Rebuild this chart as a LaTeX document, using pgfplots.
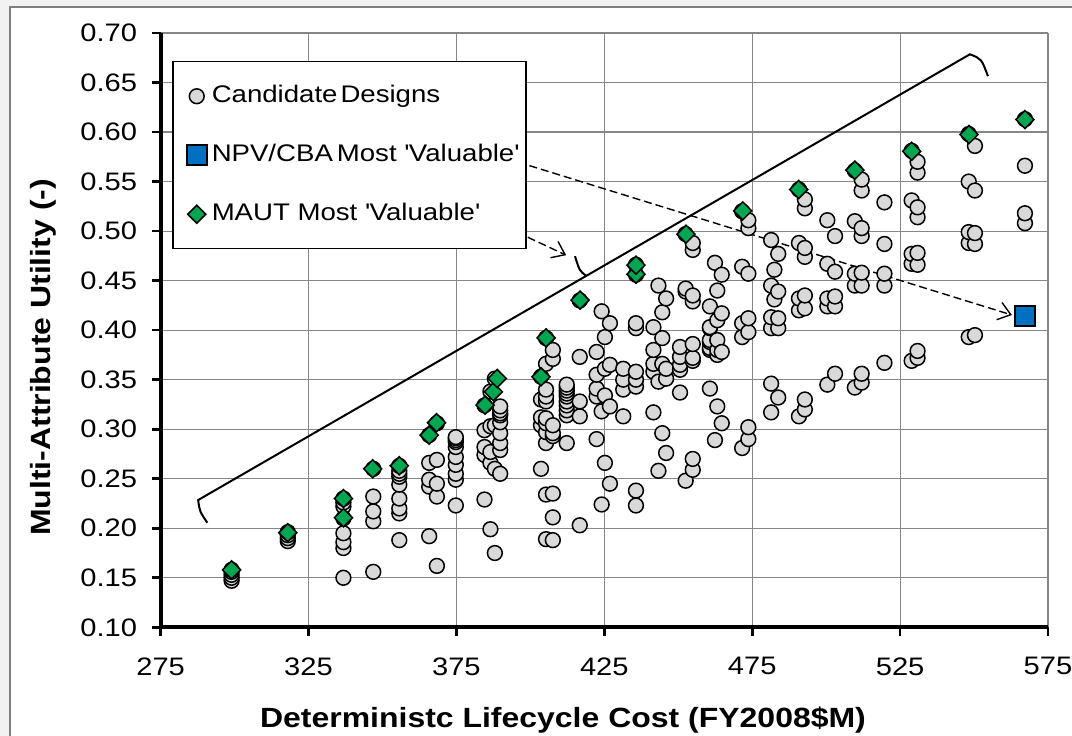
\documentclass[border=0pt]{standalone}
\usepackage{fontspec}
\setmainfont{Liberation Sans}[FakeStretch=1.15]
\usepackage{pgfplots}
\pgfplotsset{compat=1.18}
\usetikzlibrary{arrows.meta}
\definecolor{ptgray}{HTML}{D9D9D9}
\definecolor{ptgreen}{HTML}{00A650}
\definecolor{ptblue}{HTML}{0070C0}
\definecolor{gridgray}{HTML}{868686}
\definecolor{bggray}{HTML}{F2F2F2}
\definecolor{framegray}{HTML}{7F7F7F}
\pgfplotsset{mylegimg/.style={legend image code/.code={\draw[##1] plot coordinates {(0bp,0bp)}; \path[draw=none,fill=none] (-10bp,-4bp) rectangle (4bp,4bp);}}}

\pgfplotstableread{
x y
299.0 0.147
299.0 0.150
299.0 0.153
299.0 0.156
299.0 0.158
318.0 0.187
318.0 0.190
318.0 0.193
318.0 0.196
336.8 0.150
336.8 0.180
336.8 0.186
336.8 0.195
336.8 0.210
336.8 0.222
336.8 0.226
336.8 0.230
346.9 0.156
346.9 0.207
346.9 0.217
346.9 0.232
346.9 0.260
355.7 0.188
355.7 0.215
355.7 0.220
355.7 0.230
355.7 0.244
355.7 0.252
355.7 0.255
355.7 0.258
355.7 0.263
365.8 0.192
365.8 0.242
365.8 0.249
365.8 0.266
365.8 0.294
368.4 0.162
368.4 0.232
368.4 0.245
368.4 0.269
368.4 0.306
374.8 0.223
374.8 0.249
374.8 0.255
374.8 0.264
374.8 0.272
374.8 0.282
374.8 0.287
374.8 0.289
374.8 0.291
374.8 0.292
384.5 0.229
384.5 0.274
384.5 0.282
384.5 0.299
384.5 0.324
386.5 0.199
386.5 0.266
386.5 0.277
386.5 0.303
386.5 0.338
388.0 0.175
388.0 0.260
388.0 0.304
388.0 0.351
389.8 0.255
389.8 0.279
389.8 0.286
389.8 0.296
389.8 0.307
389.8 0.314
389.8 0.316
389.8 0.319
389.8 0.323
403.6 0.260
403.6 0.304
403.6 0.312
403.6 0.330
403.6 0.353
405.3 0.189
405.3 0.234
405.3 0.286
405.3 0.297
405.3 0.306
405.3 0.311
405.3 0.328
405.3 0.333
405.3 0.340
405.3 0.366
405.3 0.392
407.6 0.188
407.6 0.211
407.6 0.235
407.6 0.293
407.6 0.296
407.6 0.304
407.6 0.371
407.6 0.380
412.3 0.286
412.3 0.314
412.3 0.319
412.3 0.324
412.3 0.328
412.3 0.333
412.3 0.336
412.3 0.339
412.3 0.342
412.3 0.345
416.7 0.203
416.7 0.313
416.7 0.328
416.7 0.373
416.7 0.430
422.4 0.290
422.4 0.333
422.4 0.341
422.4 0.355
422.4 0.378
424.1 0.224
424.1 0.318
424.1 0.419
425.2 0.266
425.2 0.334
425.2 0.361
425.2 0.393
426.9 0.245
426.9 0.323
426.9 0.365
426.9 0.407
431.4 0.313
431.4 0.340
431.4 0.350
431.4 0.361
435.7 0.223
435.7 0.238
435.7 0.343
435.7 0.350
435.7 0.358
435.7 0.402
435.7 0.407
435.7 0.456
435.7 0.466
441.6 0.317
441.6 0.358
441.6 0.366
441.6 0.380
441.6 0.403
443.3 0.258
443.3 0.348
443.3 0.445
444.6 0.296
444.6 0.366
444.6 0.392
444.6 0.418
445.9 0.276
445.9 0.351
445.9 0.361
445.9 0.432
450.6 0.337
450.6 0.360
450.6 0.365
450.6 0.373
450.6 0.383
452.5 0.248
452.5 0.439
452.5 0.442
452.5 0.497
454.9 0.259
454.9 0.270
454.9 0.369
454.9 0.372
454.9 0.386
454.9 0.429
454.9 0.435
454.9 0.481
454.9 0.488
460.7 0.341
460.7 0.380
460.7 0.382
460.7 0.388
460.7 0.390
460.7 0.402
460.7 0.403
460.7 0.424
462.4 0.289
462.4 0.468
463.2 0.323
463.2 0.375
463.2 0.380
463.2 0.390
463.2 0.410
463.2 0.440
464.7 0.306
464.7 0.378
464.7 0.417
464.7 0.456
471.6 0.281
471.6 0.393
471.6 0.407
471.6 0.464
471.6 0.520
473.7 0.290
473.7 0.302
473.7 0.398
473.7 0.412
473.7 0.457
473.7 0.503
473.7 0.511
481.4 0.317
481.4 0.346
481.4 0.402
481.4 0.413
481.4 0.445
481.4 0.491
482.5 0.431
482.5 0.461
483.8 0.332
483.8 0.402
483.8 0.412
483.8 0.439
483.8 0.477
490.8 0.313
490.8 0.420
490.8 0.432
490.8 0.488
490.8 0.542
492.8 0.320
492.8 0.330
492.8 0.422
492.8 0.435
492.8 0.474
492.8 0.483
492.8 0.523
492.8 0.532
500.4 0.345
500.4 0.424
500.4 0.432
500.4 0.467
500.4 0.511
503.0 0.356
503.0 0.424
503.0 0.434
503.0 0.459
503.0 0.495
509.7 0.342
509.7 0.445
509.7 0.457
509.7 0.510
509.7 0.561
512.0 0.347
512.0 0.356
512.0 0.445
512.0 0.458
512.0 0.495
512.0 0.503
512.0 0.541
512.0 0.552
519.7 0.367
519.7 0.445
519.7 0.457
519.7 0.487
519.7 0.529
528.9 0.369
528.9 0.467
528.9 0.477
528.9 0.531
528.9 0.581
530.9 0.372
530.9 0.379
530.9 0.466
530.9 0.478
530.9 0.514
530.9 0.524
530.9 0.559
530.9 0.570
548.2 0.393
548.2 0.488
548.2 0.499
548.2 0.550
548.2 0.598
550.3 0.395
550.3 0.487
550.3 0.498
550.3 0.541
550.3 0.586
567.2 0.508
567.2 0.518
567.2 0.566
567.2 0.613
}\candidates

\pgfplotstableread{
x y
299.0 0.158
318.0 0.1955
336.8 0.2106
336.8 0.230
346.7 0.260
355.7 0.2631
365.8 0.294
368.3 0.3065
384.7 0.3243
387.5 0.3378
388.8 0.3512
403.6 0.3529
405.3 0.3922
416.8 0.4303
435.7 0.4565
435.7 0.4656
452.6 0.4969
471.8 0.5204
490.7 0.5420
509.7 0.5615
528.9 0.5806
548.3 0.5975
567.2 0.6126
}\maut

\pgfplotstableread{
x y
567.2 0.4141
}\npv

\begin{document}
\begin{tikzpicture}
\useasboundingbox (-80.3bp,-54.35bp) rectangle (455.7bp,313.65bp);
\fill[bggray] (-80.3bp,-54.35bp) rectangle (455.7bp,313.65bp);
\fill[white] (-75.3bp,-60bp) rectangle (460bp,310.15bp);
\draw[framegray,line width=0.75bp] (-75.3bp,-60bp) -- (-75.3bp,310.15bp) -- (460bp,310.15bp);
\begin{axis}[
  at={(0,0)}, anchor=south west,
  width=443.7bp, height=297.15bp, scale only axis,
  xmin=275, xmax=575, ymin=0.1, ymax=0.7,
  xtick={275,325,375,425,475,525,575},
  ytick={0.10,0.15,0.20,0.25,0.30,0.35,0.40,0.45,0.50,0.55,0.60,0.65,0.70},
  axis x line*=bottom, axis y line*=left,
  axis line style={line width=2bp, black},
  tick align=outside, major tick length=4.5bp,
  tick style={line width=1.3bp, black},
  grid=major, grid style={line width=0.6bp, gridgray},
  /pgf/number format/assume math mode=true,
  ticklabel style={font=\fontsize{12.65bp}{15bp}\selectfont},
  xticklabel style={yshift=-7.1bp},
  yticklabel style={xshift=-3.8bp, /pgf/number format/fixed, /pgf/number format/precision=2, /pgf/number format/fixed zerofill},
  scaled y ticks=false,
  legend cell align=left,
  legend style={
    at={(axis description cs:0.01285,0.9529)}, anchor=north west,
    draw=black, line width=0.75bp, fill=white,
    font=\fontsize{12bp}{14bp}\selectfont,
    inner xsep=2bp, inner ysep=10.5bp,
    row sep=16bp, column sep=1bp,
    nodes={inner xsep=1.5bp, inner ysep=1bp, text height=9bp, text depth=2.5bp},
  },
]
\addplot[only marks, mylegimg, mark=*, mark size=3.7bp, mark options={fill=ptgray, draw=black, line width=0.75bp}] table {\candidates};
\addlegendentry{Candidate\hspace{1.5bp}Designs}
\addplot[only marks, mylegimg, mark=square*, mark size=5bp, mark options={fill=ptblue, draw=black, line width=0.75bp}] table {\npv};
\addlegendentry{NPV/CBA\,Most \textquotesingle Valuable\textquotesingle}
\addplot[only marks, mylegimg, mark=square*, mark size=3.2bp, mark options={rotate=45, fill=ptgreen, draw=black, line width=0.75bp}] table {\maut};
\addlegendentry{MAUT Most \textquotesingle Valuable\textquotesingle}

% brace annotation
\draw[line width=1bp, black] (axis cs:290.8,0.2056) .. controls (axis cs:288.2,0.2170) .. (axis cs:287.7,0.2285)
  -- (axis cs:418.9,0.4548) -- (axis cs:548.6,0.6785) .. controls (axis cs:552.5,0.6740) .. (axis cs:554.7,0.6564);
\draw[line width=1bp, black] (axis cs:418.9,0.4548) .. controls (axis cs:416.6,0.4600) .. (axis cs:415.1,0.4747);
% dashed arrows
\draw[line width=0.7bp, black, dash pattern=on 4bp off 2bp, -{Straight Barb[length=6bp,width=9bp]}]
  (axis cs:395.8,0.5697) -- (axis cs:562.8,0.4153);
\draw[line width=0.7bp, black, dash pattern=on 4bp off 2bp, -{Straight Barb[length=6bp,width=9bp]}]
  (axis cs:388.1,0.5092) -- (axis cs:412.1,0.4757);
\end{axis}
\node[font=\fontsize{13.9bp}{16bp}\selectfont\bfseries] at (201.2bp,-46.35bp) {Deterministc Lifecycle Cost (FY2008\$M)};
\node[font=\fontsize{13.9bp}{16bp}\selectfont\bfseries, rotate=90] at (-58.65bp,134.9bp) {Multi-Attribute Utility (-)};
\end{tikzpicture}
\end{document}
